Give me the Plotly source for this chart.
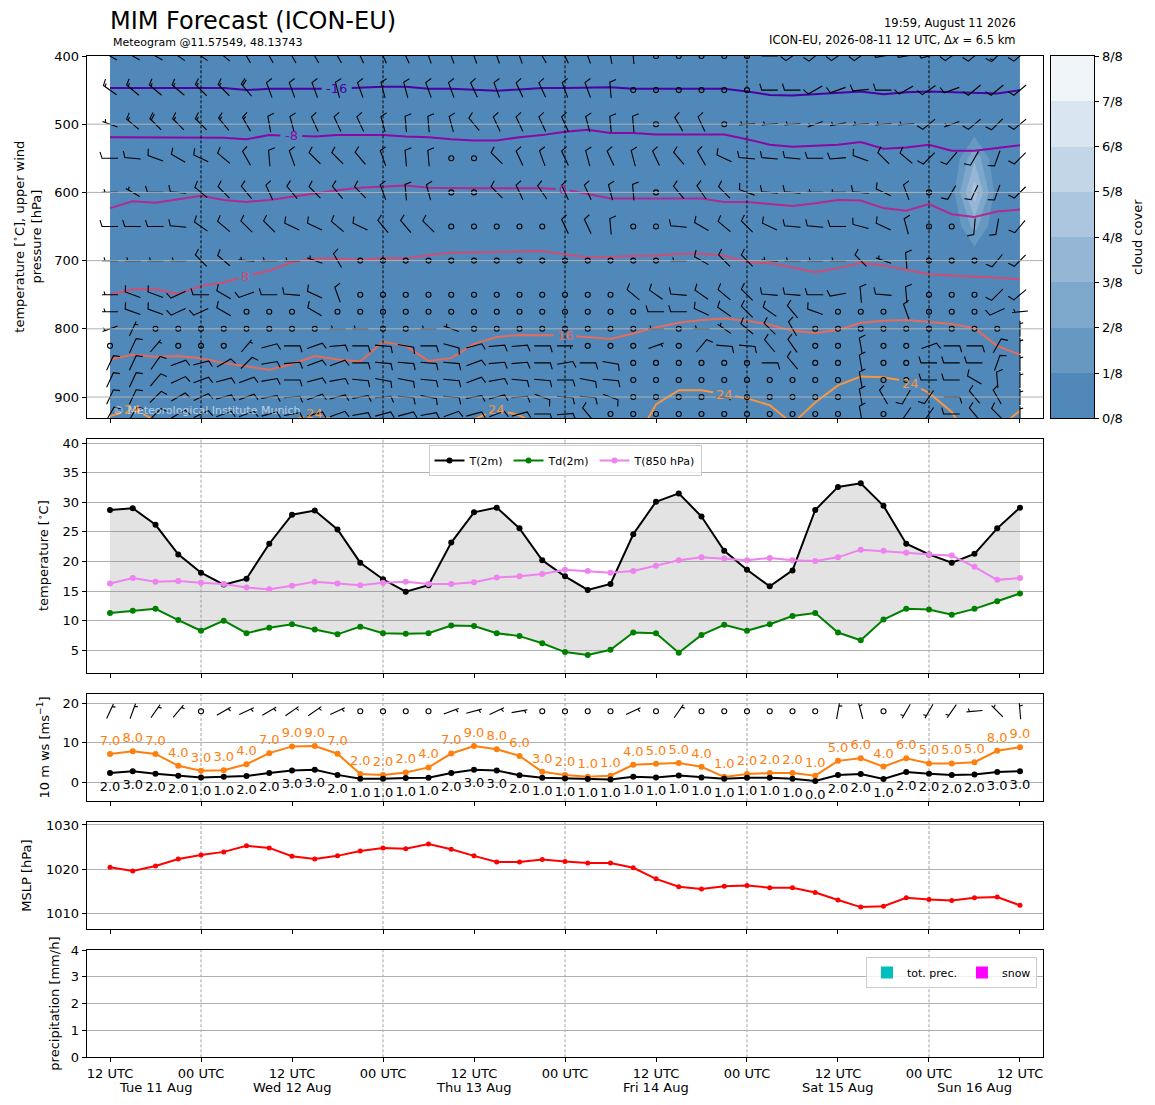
import math
import numpy as np
import plotly.graph_objects as go

# ---------------- data ----------------
lead_hours = list(range(0, 121, 3))   # hours after 2026-08-11 12 UTC
tick_hours = [0, 12, 24, 36, 48, 60, 72, 84, 96, 108, 120]
tick_text = ["12 UTC", "00 UTC", "12 UTC", "00 UTC", "12 UTC", "00 UTC",
             "12 UTC", "00 UTC", "12 UTC", "00 UTC", "12 UTC"]
midnight_hours = [12, 36, 60, 84, 108]
day_centers = [6, 24, 48, 72, 96, 114]
day_labels = ["Tue 11 Aug", "Wed 12 Aug", "Thu 13 Aug", "Fri 14 Aug", "Sat 15 Aug", "Sun 16 Aug"]

t2m = [28.7, 29.0, 26.2, 21.2, 18.1, 16.1, 17.1, 23.0, 27.9, 28.6, 25.4, 19.8, 17.0, 14.9,
       16.0, 23.2, 28.3, 29.1, 25.6, 20.2, 17.5, 15.2, 16.2, 24.6, 30.1, 31.5, 27.6, 21.8,
       18.6, 15.8, 18.5, 28.7, 32.6, 33.2, 29.4, 23.0, 21.2, 19.8, 21.3, 25.6, 29.1]
td2m = [11.3, 11.7, 12.0, 10.1, 8.3, 10.0, 7.9, 8.8, 9.4, 8.5, 7.7, 9.0, 7.9, 7.8,
        7.9, 9.2, 9.1, 7.9, 7.4, 6.2, 4.7, 4.2, 5.1, 8.0, 7.9, 4.6, 7.6, 9.3,
        8.3, 9.4, 10.8, 11.3, 8.0, 6.7, 10.2, 12.0, 11.9, 11.0, 12.0, 13.3, 14.6]
t850 = [16.3, 17.2, 16.6, 16.7, 16.4, 16.2, 15.6, 15.3, 15.9, 16.6, 16.3, 16.0, 16.4, 16.6,
        16.2, 16.2, 16.5, 17.3, 17.5, 17.9, 18.6, 18.4, 18.1, 18.4, 19.3, 20.2, 20.7, 20.5,
        20.2, 20.6, 20.2, 20.1, 20.7, 22.0, 21.8, 21.5, 21.2, 21.0, 19.1, 16.9, 17.2]

ws10 = [2.4, 2.8, 2.2, 1.7, 1.25, 1.4, 1.6, 2.4, 3.0, 3.2, 1.9, 0.9, 0.9, 1.1,
        1.2, 2.4, 3.2, 3.0, 1.8, 1.2, 1.0, 0.85, 0.75, 1.45, 1.25, 1.75, 1.25, 0.9,
        1.2, 1.2, 0.9, 0.35, 1.85, 2.1, 0.85, 2.6, 2.2, 1.85, 2.0, 2.6, 2.85]
ws10_labels = [2.0, 3.0, 2.0, 2.0, 1.0, 1.0, 2.0, 2.0, 3.0, 3.0, 2.0, 1.0, 1.0, 1.0,
               1.0, 2.0, 3.0, 3.0, 2.0, 1.0, 1.0, 1.0, 1.0, 1.0, 1.0, 1.0, 1.0, 1.0,
               1.0, 1.0, 1.0, 0.0, 2.0, 2.0, 1.0, 2.0, 2.0, 2.0, 2.0, 3.0, 3.0]
gust10 = [7.2, 7.85, 7.2, 4.2, 2.95, 3.1, 4.6, 7.4, 9.1, 9.2, 7.25, 2.1, 1.9, 2.5,
          3.8, 7.3, 9.2, 8.4, 6.7, 2.7, 1.9, 1.4, 1.7, 4.45, 4.7, 4.9, 3.95, 1.4,
          2.1, 2.35, 2.35, 1.7, 5.45, 6.1, 4.0, 6.1, 4.8, 4.8, 5.1, 8.0, 8.9]
gust10_labels = [7.0, 8.0, 7.0, 4.0, 3.0, 3.0, 4.0, 7.0, 9.0, 9.0, 7.0, 2.0, 2.0, 2.0,
                 4.0, 7.0, 9.0, 8.0, 6.0, 3.0, 2.0, 1.0, 1.0, 4.0, 5.0, 5.0, 4.0, 1.0,
                 2.0, 2.0, 2.0, 1.0, 5.0, 6.0, 4.0, 6.0, 5.0, 5.0, 5.0, 8.0, 9.0]
wdir10 = [25, 20, 35, 40, 0, 60, 65, 60, 55, 55, 65, 0, 0, 0,
          0, 70, 75, 65, 80, 0, 0, 0, 0, 65, 0, 35, 0, 0,
          0, 0, 0, 0, 10, 345, 0, 210, 210, 215, 265, 315, 355]

mslp = [1020.4, 1019.6, 1020.7, 1022.3, 1023.2, 1023.9, 1025.3, 1024.8, 1022.9, 1022.3,
        1023.0, 1024.1, 1024.8, 1024.6, 1025.7, 1024.5, 1023.0, 1021.6, 1021.6, 1022.2,
        1021.7, 1021.4, 1021.4, 1020.3, 1017.8, 1016.0, 1015.5, 1016.1, 1016.3, 1015.8,
        1015.8, 1014.7, 1013.0, 1011.4, 1011.6, 1013.5, 1013.1, 1012.9, 1013.5, 1013.7, 1011.8]

tot_prec = [0.0] * 41
snow_prec = [0.0] * 41

# upper-air winds: direction (deg, from) and speed (kt) per pressure level
levels = [400, 450, 500, 550, 600, 650, 700, 750, 775, 800, 825, 850, 875, 900, 925]
dir_400 = [300, 300, 300, 305, 305, 310, 330, 330, 330, 330, 330, 335, 335, 335, 340, 340, 340, 340, 340, 330, 335,
           340, 350, 355, 0, 0, 0, 0, 0, 270, 235, 230, 235, 235, 260, 260, 255, 235, 230, 225, 230]
kt_400 = [15, 15, 15, 15, 15, 15, 15, 15, 15, 15, 15, 15, 15, 15, 10, 10, 10, 10, 10, 10, 10,
          10, 10, 10, 0, 0, 0, 0, 0, 5, 10, 10, 10, 10, 10, 10, 10, 10, 10, 15, 10]
dir_450 = [305, 310, 310, 310, 315, 315, 320, 340, 340, 340, 345, 340, 345, 345, 340, 340, 335, 340, 335, 335, 340,
           340, 355, 0, 0, 0, 0, 0, 0, 270, 270, 240, 250, 265, 270, 240, 235, 250, 230, 230, 230]
kt_450 = [15, 15, 15, 15, 15, 15, 20, 10, 10, 10, 10, 10, 10, 10, 10, 10, 10, 10, 10, 10, 10,
          10, 10, 0, 0, 0, 0, 0, 0, 10, 10, 10, 10, 10, 10, 10, 10, 10, 10, 10, 10]
dir_500 = [290, 310, 315, 315, 315, 320, 330, 350, 345, 335, 335, 335, 345, 355, 355, 345, 320, 335, 335, 335, 335,
           345, 355, 355, 0, 330, 335, 0, 265, 265, 265, 250, 260, 265, 265, 265, 230, 250, 230, 225, 230]
kt_500 = [5, 15, 20, 15, 15, 15, 15, 10, 10, 10, 10, 10, 10, 10, 10, 10, 10, 10, 10, 10, 10,
          10, 10, 10, 0, 10, 10, 0, 5, 5, 5, 5, 5, 5, 5, 5, 10, 5, 10, 10, 10]
dir_550 = [270, 275, 290, 300, 295, 310, 330, 355, 340, 315, 315, 320, 340, 355, 355, 0, 0, 315, 335, 340, 335,
           345, 335, 345, 335, 320, 330, 295, 275, 275, 275, 270, 265, 290, 315, 310, 225, 220, 210, 200, 225]
kt_550 = [10, 10, 10, 10, 10, 10, 10, 10, 10, 10, 10, 10, 10, 10, 10, 0, 0, 10, 10, 10, 10,
          10, 10, 10, 10, 10, 10, 10, 10, 10, 10, 10, 10, 10, 10, 10, 10, 10, 10, 10, 10]
dir_600 = [270, 300, 270, 275, 310, 315, 320, 335, 320, 315, 320, 315, 340, 355, 345, 0, 0, 315, 335, 325, 335,
           335, 345, 355, 0, 320, 325, 315, 290, 275, 275, 270, 270, 275, 295, 340, 0, 210, 205, 200, 225]
kt_600 = [5, 5, 10, 10, 10, 10, 10, 10, 10, 10, 10, 10, 10, 10, 10, 0, 0, 10, 10, 10, 10,
          10, 10, 10, 0, 10, 10, 10, 10, 10, 10, 5, 5, 10, 10, 10, 0, 10, 10, 10, 10]
dir_650 = [270, 270, 270, 275, 305, 310, 315, 315, 295, 295, 310, 295, 320, 320, 315, 0, 0, 0, 0, 0, 335,
           335, 355, 0, 0, 275, 300, 310, 315, 295, 275, 275, 270, 285, 295, 345, 0, 0, 185, 190, 220]
kt_650 = [10, 10, 10, 10, 10, 10, 10, 10, 10, 10, 10, 10, 10, 10, 10, 0, 0, 0, 0, 0, 10,
          10, 10, 0, 0, 10, 10, 10, 10, 10, 10, 10, 10, 10, 10, 10, 0, 0, 10, 10, 10]
dir_700 = [270, 270, 270, 270, 315, 310, 275, 270, 270, 290, 330, 0, 0, 0, 0, 0, 0, 0, 0, 0, 0,
           0, 0, 0, 0, 270, 300, 315, 315, 275, 270, 270, 270, 315, 290, 355, 0, 0, 0, 220, 225]
kt_700 = [5, 5, 5, 5, 10, 10, 5, 5, 5, 5, 10, 0, 0, 0, 0, 0, 0, 0, 0, 0, 0,
          0, 0, 0, 0, 5, 10, 10, 10, 5, 5, 5, 5, 10, 5, 10, 0, 0, 0, 10, 10]
dir_750 = [270, 290, 290, 245, 270, 300, 250, 270, 275, 295, 340, 0, 0, 0, 0, 0, 0, 0, 0, 0, 0,
           0, 0, 310, 305, 275, 305, 310, 315, 275, 275, 270, 260, 355, 275, 355, 0, 0, 0, 225, 230]
kt_750 = [5, 10, 10, 10, 10, 10, 10, 10, 10, 10, 10, 0, 0, 0, 0, 0, 0, 0, 0, 0, 0,
          0, 0, 10, 10, 10, 10, 10, 10, 10, 10, 10, 10, 10, 10, 10, 0, 0, 0, 10, 10]
dir_775 = [270, 290, 290, 245, 245, 300, 0, 0, 0, 300, 0, 0, 0, 0, 0, 0, 0, 0, 0, 0, 0,
           0, 0, 0, 270, 270, 295, 305, 315, 305, 320, 290, 0, 0, 0, 340, 0, 0, 0, 245, 265]
kt_775 = [5, 10, 10, 10, 10, 10, 0, 0, 0, 10, 0, 0, 0, 0, 0, 0, 0, 0, 0, 0, 0,
          0, 0, 0, 10, 10, 10, 10, 10, 10, 10, 10, 0, 0, 0, 10, 0, 0, 0, 10, 5]
dir_800 = [250, 25, 0, 0, 0, 0, 0, 0, 0, 0, 270, 270, 0, 0, 270, 290, 0, 0, 0, 0, 0,
           0, 0, 0, 270, 0, 270, 305, 310, 315, 330, 0, 0, 0, 0, 0, 0, 0, 0, 0, 0]
kt_800 = [5, 5, 0, 0, 0, 0, 0, 0, 0, 0, 5, 5, 0, 0, 5, 5, 0, 0, 0, 0, 0,
          0, 0, 0, 5, 0, 5, 5, 10, 10, 10, 0, 0, 0, 0, 0, 0, 0, 0, 0, 5]
dir_825 = [0, 25, 40, 0, 0, 0, 40, 75, 90, 70, 85, 90, 95, 100, 90, 105, 75, 85, 85, 90, 90,
           0, 0, 0, 70, 0, 40, 95, 95, 320, 325, 0, 0, 350, 0, 0, 70, 90, 90, 30, 0]
kt_825 = [0, 10, 5, 0, 0, 0, 5, 10, 10, 10, 10, 10, 10, 10, 10, 10, 10, 10, 10, 10, 5,
          0, 0, 0, 5, 0, 10, 10, 10, 10, 10, 0, 0, 10, 0, 0, 10, 10, 10, 10, 5]
dir_850 = [25, 25, 35, 70, 75, 60, 45, 80, 85, 70, 70, 90, 95, 95, 95, 95, 70, 85, 85, 90, 80,
           90, 100, 0, 0, 0, 0, 0, 0, 90, 320, 0, 0, 350, 0, 0, 270, 270, 270, 20, 0]
kt_850 = [10, 10, 10, 10, 10, 10, 10, 10, 10, 10, 10, 10, 10, 10, 10, 10, 10, 10, 10, 10, 10,
          10, 10, 0, 0, 0, 0, 0, 0, 10, 10, 0, 0, 10, 0, 0, 10, 10, 10, 10, 5]
dir_875 = [25, 25, 40, 65, 70, 75, 70, 80, 90, 75, 80, 95, 100, 100, 95, 95, 70, 80, 95, 95, 90,
           100, 95, 0, 0, 0, 0, 0, 0, 0, 0, 0, 0, 350, 0, 0, 270, 270, 300, 355, 0]
kt_875 = [10, 10, 10, 10, 10, 10, 10, 10, 10, 10, 10, 10, 10, 10, 10, 10, 10, 10, 10, 10, 10,
          10, 10, 0, 0, 0, 0, 0, 0, 0, 0, 0, 0, 10, 0, 0, 10, 10, 10, 10, 5]
dir_900 = [25, 25, 45, 60, 65, 75, 70, 80, 85, 70, 75, 80, 85, 95, 100, 95, 80, 75, 85, 110, 95,
           95, 110, 0, 0, 0, 0, 90, 0, 0, 0, 0, 0, 350, 330, 210, 215, 90, 320, 330, 0]
kt_900 = [10, 10, 10, 10, 10, 10, 10, 10, 10, 10, 10, 10, 10, 10, 10, 10, 10, 10, 10, 10, 10,
          10, 10, 0, 0, 0, 0, 5, 0, 0, 0, 0, 0, 10, 10, 10, 10, 10, 10, 10, 5]
dir_925 = [30, 30, 45, 60, 65, 70, 70, 75, 80, 75, 70, 80, 75, 75, 80, 70, 75, 70, 75, 90, 85,
           320, 0, 0, 0, 0, 0, 0, 0, 0, 0, 0, 0, 350, 0, 215, 215, 270, 320, 315, 0]
kt_925 = [10, 10, 10, 10, 10, 10, 10, 10, 10, 10, 10, 10, 10, 10, 10, 10, 10, 10, 10, 10, 10,
          10, 0, 0, 0, 0, 0, 0, 0, 0, 0, 0, 0, 10, 0, 10, 10, 10, 10, 10, 5]
upper_dirs = [dir_400, dir_450, dir_500, dir_550, dir_600, dir_650, dir_700, dir_750,
              dir_775, dir_800, dir_825, dir_850, dir_875, dir_900, dir_925]
upper_kts = [kt_400, kt_450, kt_500, kt_550, kt_600, kt_650, kt_700, kt_750,
             kt_775, kt_800, kt_825, kt_850, kt_875, kt_900, kt_925]

# isotherm heights (hPa) of the labelled temperature contours
iso_m16 = [447, 447, 447, 447, 447, 447, 450, 448, 448, 448, 448, 446, 445, 445, 448, 448, 450, 451, 449, 447, 447,
           447, 446, 448, 448, 448, 448, 448, 452, 457, 458, 456, 455, 452, 456, 453, 452, 453, 453, 455, 450]
iso_m8 = [519, 519, 519, 520, 520, 520, 522, 516, 517, 518, 516, 516, 516, 518, 519, 522, 524, 524, 519, 516, 511,
          508, 513, 513, 515, 515, 515, 515, 522, 530, 533, 531, 530, 526, 536, 534, 530, 539, 539, 535, 531]
iso_0 = [623, 613, 615, 610, 605, 611, 614, 611, 606, 601, 597, 593, 591, 590, 593, 594, 594, 594, 594, 594, 596,
         602, 609, 609, 609, 609, 609, 614, 614, 617, 620, 616, 611, 612, 623, 627, 617, 632, 636, 628, 625]
iso_8 = [750, 742, 742, 749, 737, 732, 722, 715, 702, 697, 697, 699, 696, 697, 692, 688, 688, 687, 686, 686, 691,
         695, 695, 693, 693, 690, 690, 693, 702, 704, 710, 717, 711, 703, 707, 714, 720, 722, 724, 725, 727]
iso_16 = [845, 838, 841, 840, 843, 850, 855, 860, 852, 840, 845, 848, 819, 825, 847, 843, 822, 812, 809, 809, 810,
          812, 815, 807, 798, 791, 787, 785, 788, 794, 803, 806, 802, 791, 788, 787, 790, 793, 799, 825, 838]
iso_24 = [928, 918, 934, 945, 950, 950, 950, 945, 935, 924, 936, 950, 950, 950, 950, 945, 933, 918, 927, 945, 950,
          950, 955, 970, 911, 890, 890, 896, 902, 912, 939, 908, 883, 870, 871, 877, 894, 922, 975, 947, 920]
isotherms = [(-16, iso_m16, "#4a02a0", [29.9]),
             (-8, iso_m8, "#8a09a5", [23.9]),
             (0, iso_0, "#b12a90", [59.7]),
             (8, iso_8, "#d04d73", [17.8]),
             (16, iso_16, "#e56b5d", [60.0]),
             (24, iso_24, "#f89540", [2.9, 27.0, 51.0, 81.0, 105.5])]

# cloud cover (octas), only non-zero grid cells
cloud_levels = [400, 450, 500, 550, 600, 650, 700, 750, 775, 800, 825, 850, 875, 900, 925, 950]
cloud_idx = [38, 38, 38, 37, 39]
cloud_p = [550, 600, 650, 600, 600]
cloud_octas = [2.8, 4.6, 2.4, 0.5, 0.4]
cloud_colors = ["rgb(80,136,185)", "rgb(103,152,194)", "rgb(126,167,204)", "rgb(149,183,213)",
                "rgb(171,198,222)", "rgb(194,214,231)", "rgb(217,229,241)", "rgb(240,245,250)"]
cloud_ticks = ["0/8", "1/8", "2/8", "3/8", "4/8", "5/8", "6/8", "7/8", "8/8"]

# ---------------- geometry (pixels of the reference picture) ----------------
PAGE_OFF = 8                      # default body margin of the html page
FIG_W, FIG_H = 1155 - PAGE_OFF, 1105 - PAGE_OFF
X_L, X_R = 86.7, 1043.3
X_RANGE = [-3.075, 123.075]
SX = (X_R - X_L) / (X_RANGE[1] - X_RANGE[0])
panels = [  # top px, bottom px, y range
    (56.0, 418.3, [931.2, 400.0]),
    (439.3, 672.7, [1.22, 40.64]),
    (694.0, 801.0, [-4.7, 22.35]),
    (822.3, 929.0, [1006.44, 1030.6]),
    (950.0, 1057.3, [0, 4]),
]


def fx(px):
    return (px - PAGE_OFF) / FIG_W


def fy(py):
    return 1 - (py - PAGE_OFF) / FIG_H


def px_per_unit(i):
    top, bot, yr = panels[i]
    return (bot - top) / (yr[1] - yr[0])   # negative for reversed axis


def barbs(xc, yc, wdir, wkt, sy, length=16.0):
    """matplotlib style wind barbs (pivot middle) as line segments in data units"""
    h, w, sp = 0.4 * length, 0.25 * length, 0.125 * length
    xs, ys, cx, cy = [], [], [], []
    for x0, y0, d, s in zip(xc, yc, wdir, wkt):
        mag = 5 * int(s / 5 + 0.5)
        nflag = mag // 50
        mag -= 50 * nflag
        nbarb = mag // 10
        half = (mag - 10 * nbarb) >= 5
        if nflag == 0 and nbarb == 0 and not half:
            cx.append(x0)
            cy.append(y0)
            continue
        u = -s * math.sin(math.radians(d))
        v = -s * math.cos(math.radians(d))
        rot = math.atan2(v, u) + math.pi / 2
        endy = -length / 2
        pts = [(0, endy)]
        off = length
        for _ in range(nflag):
            pts += [(0, endy + off), (h, endy + off - w / 2), (0, endy + off - w)]
            off -= w + sp
        for _ in range(nbarb):
            pts += [(0, endy + off), (h, endy + off + w / 2), (0, endy + off)]
            off -= sp
        if half:
            if off == length:
                pts.append((0, endy + off))
                off -= 1.5 * sp
            pts += [(0, endy + off), (h / 2, endy + off + w / 4), (0, endy + off)]
        pts.append((0, endy))
        c, sn = math.cos(rot), math.sin(rot)
        for px, py in pts:
            rx = px * c - py * sn
            ry = px * sn + py * c
            xs.append(x0 + rx / SX)
            ys.append(y0 + ry / sy)
        xs.append(None)
        ys.append(None)
    return xs, ys, cx, cy


def gapped(values, label_times, half):
    t = np.array(lead_hours, float)
    p = np.array(values, float)
    allt = sorted(set(list(t) + [tl - half for tl in label_times] + [tl + half for tl in label_times]))
    xs, ys = [], []
    for tt in allt:
        if any(tl - half + 1e-9 < tt < tl + half - 1e-9 for tl in label_times):
            continue
        xs.append(tt)
        ys.append(float(np.interp(tt, t, p)))
        if any(abs(tt - (tl - half)) < 1e-9 for tl in label_times):
            xs.append(None)
            ys.append(None)
    return xs, ys


fig = go.Figure()
FONT = "DejaVu Sans"

# ---- upper panel: cloud cover, isotherms, winds ----
cloud = np.zeros((len(cloud_levels), len(lead_hours)))
for i, p, v in zip(cloud_idx, cloud_p, cloud_octas):
    cloud[cloud_levels.index(p), i] = v
fig.add_trace(go.Contour(
    x=lead_hours, y=cloud_levels, z=cloud, autocontour=False,
    contours=dict(start=1, end=7, size=1, coloring="fill", showlines=False),
    colorscale=[[k / 7, c] for k, c in enumerate(cloud_colors)],
    line=dict(width=0, smoothing=0), showscale=False, hoverinfo="skip",
    xaxis="x", yaxis="y"))

annotations = []
for lev, vals, col, ltimes in isotherms:
    txt = str(lev)
    half = (len(txt) * 8 + 6) / 2 / SX
    xs, ys = gapped(vals, ltimes, half)
    fig.add_trace(go.Scatter(x=xs, y=ys, mode="lines", line=dict(color=col, width=2),
                             showlegend=False, hoverinfo="skip", xaxis="x", yaxis="y"))
    for tl in ltimes:
        annotations.append(dict(x=tl, y=float(np.interp(tl, lead_hours, vals)), xref="x", yref="y",
                                text=txt, showarrow=False, font=dict(color=col, size=13, family=FONT)))

sy_up = px_per_unit(0)
bx, by, bcx, bcy = [], [], [], []
for lev, dirs, kts in zip(levels, upper_dirs, upper_kts):
    a, b, c, d = barbs(lead_hours, [lev] * len(lead_hours), dirs, kts, sy_up)
    bx += a
    by += b
    bcx += c
    bcy += d
fig.add_trace(go.Scatter(x=bx, y=by, mode="lines", line=dict(color="black", width=1.1),
                         showlegend=False, hoverinfo="skip", xaxis="x", yaxis="y"))
fig.add_trace(go.Scatter(x=bcx, y=bcy, mode="markers",
                         marker=dict(symbol="circle-open", size=5, color="black", line=dict(width=1.1)),
                         showlegend=False, hoverinfo="skip", xaxis="x", yaxis="y"))

# ---- colour bar for cloud cover ----
fig.add_trace(go.Heatmap(x=[0], y=[k + 0.5 for k in range(8)], z=[[k] for k in range(8)],
                         colorscale=[[k / 7, c] for k, c in enumerate(cloud_colors)],
                         zmin=0, zmax=7, showscale=False, hoverinfo="skip", xaxis="x6", yaxis="y6"))

# ---- temperature ----
fig.add_trace(go.Scatter(x=lead_hours, y=td2m, mode="lines", line=dict(width=0), showlegend=False,
                         hoverinfo="skip", xaxis="x2", yaxis="y2"))
fig.add_trace(go.Scatter(x=lead_hours, y=t2m, mode="lines", line=dict(width=0), fill="tonexty",
                         fillcolor="rgba(128,128,128,0.22)", showlegend=False, hoverinfo="skip",
                         xaxis="x2", yaxis="y2"))
for name, vals, col in [("T(2m)", t2m, "black"), ("Td(2m)", td2m, "green"), ("T(850 hPa)", t850, "violet")]:
    fig.add_trace(go.Scatter(x=lead_hours, y=vals, mode="lines+markers", name=name,
                             line=dict(color=col, width=2), marker=dict(size=6, color=col),
                             xaxis="x2", yaxis="y2", legend="legend"))

# ---- 10 m wind ----
sy_w = px_per_unit(2)
fig.add_trace(go.Scatter(x=lead_hours, y=gust10, mode="lines+markers", line=dict(color="#ff7f0e", width=2),
                         marker=dict(size=6, color="#ff7f0e"), showlegend=False, xaxis="x3", yaxis="y3"))
fig.add_trace(go.Scatter(x=lead_hours, y=ws10, mode="lines+markers", line=dict(color="black", width=2),
                         marker=dict(size=6, color="black"), showlegend=False, xaxis="x3", yaxis="y3"))
fig.add_trace(go.Scatter(x=lead_hours, y=[g + 12.3 / sy_w for g in gust10], mode="text",
                         text=["%.1f" % g for g in gust10_labels], textfont=dict(color="#ff7f0e", size=13),
                         showlegend=False, hoverinfo="skip", cliponaxis=False, xaxis="x3", yaxis="y3"))
fig.add_trace(go.Scatter(x=lead_hours, y=[w - 14.4 / sy_w for w in ws10], mode="text",
                         text=["%.1f" % w for w in ws10_labels], textfont=dict(color="black", size=13),
                         showlegend=False, hoverinfo="skip", cliponaxis=False, xaxis="x3", yaxis="y3"))
a, b, c, d = barbs(lead_hours, [18] * len(lead_hours), wdir10, [w * 1.94384 for w in ws10], sy_w)
fig.add_trace(go.Scatter(x=a, y=b, mode="lines", line=dict(color="black", width=1.1),
                         showlegend=False, hoverinfo="skip", xaxis="x3", yaxis="y3"))
fig.add_trace(go.Scatter(x=c, y=d, mode="markers",
                         marker=dict(symbol="circle-open", size=5, color="black", line=dict(width=1.1)),
                         showlegend=False, hoverinfo="skip", xaxis="x3", yaxis="y3"))

# ---- MSLP ----
fig.add_trace(go.Scatter(x=lead_hours, y=mslp, mode="lines+markers", line=dict(color="red", width=2),
                         marker=dict(size=5, color="red"), showlegend=False, xaxis="x4", yaxis="y4"))

# ---- precipitation ----
fig.add_trace(go.Bar(x=lead_hours, y=tot_prec, name="tot. prec.", marker_color="#00bfbf",
                     xaxis="x5", yaxis="y5", legend="legend2"))
fig.add_trace(go.Bar(x=lead_hours, y=snow_prec, name="snow", marker_color="#ff00ff",
                     xaxis="x5", yaxis="y5", legend="legend2"))

# ---------------- axes ----------------
layout = {}
ytick_sets = [
    dict(tickvals=[400, 500, 600, 700, 800, 900]),
    dict(tickvals=[5, 10, 15, 20, 25, 30, 35, 40]),
    dict(tickvals=[0, 10, 20]),
    dict(tickvals=[1010, 1020, 1030]),
    dict(tickvals=[0, 1, 2, 3, 4]),
]
for i, (top, bot, yr) in enumerate(panels):
    n = "" if i == 0 else str(i + 1)
    layout["xaxis" + n] = dict(
        domain=[fx(X_L), fx(X_R)], range=X_RANGE, anchor="y" + n, tickmode="array",
        tickvals=tick_hours, ticktext=tick_text, showticklabels=(i == 4), ticks="outside",
        ticklen=4, tickcolor="black", showline=True, mirror=True, linecolor="black", linewidth=1,
        showgrid=False, zeroline=False, tickfont=dict(size=13))
    layout["yaxis" + n] = dict(
        domain=[fy(bot), fy(top)], range=yr, anchor="x" + n, tickmode="array",
        ticks="outside", ticklen=4, tickcolor="black", showline=True, mirror=True,
        linecolor="black", linewidth=1, zeroline=False, tickfont=dict(size=13),
        showgrid=(i > 0), gridcolor="#b0b0b0", gridwidth=1, **ytick_sets[i])
layout["xaxis6"] = dict(domain=[fx(1051), fx(1094.3)], range=[-0.5, 0.5], anchor="y6",
                        showticklabels=False, ticks="", showline=True, mirror=True,
                        linecolor="black", showgrid=False, zeroline=False)
layout["yaxis6"] = dict(domain=[fy(418.3), fy(56.0)], range=[0, 8], anchor="x6", side="right",
                        tickmode="array", tickvals=list(range(9)), ticktext=cloud_ticks,
                        ticks="outside", ticklen=4, tickcolor="black", showline=True, mirror=True,
                        linecolor="black", showgrid=False, zeroline=False, tickfont=dict(size=13))

# ---------------- shapes ----------------
shapes = []
for p in [500, 600, 700, 800, 900]:
    shapes.append(dict(type="line", xref="x domain", yref="y", x0=0, x1=1, y0=p, y1=p,
                       line=dict(color="#b0b0b0", width=1), layer="above"))
for hh in midnight_hours:
    shapes.append(dict(type="line", xref="x", yref="y domain", x0=hh, x1=hh, y0=0, y1=1,
                       line=dict(color="black", width=1, dash="3px,2px"), layer="above"))
    for n in ["2", "3", "4", "5"]:
        shapes.append(dict(type="line", xref="x" + n, yref="y" + n + " domain", x0=hh, x1=hh, y0=0, y1=1,
                           line=dict(color="#8c8c8c", width=0.8, dash="3px,2px"), layer="below"))


# ---------------- texts ----------------
def ytitle(text, xpx, i):
    top, bot, _ = panels[i]
    return dict(x=fx(xpx), y=fy((top + bot) / 2), xref="paper", yref="paper", text=text,
                textangle=-90, showarrow=False, xanchor="center", yanchor="middle",
                font=dict(size=13, family=FONT))


annotations += [
    ytitle("temperature [<sup>∘</sup>C], upper wind<br>pressure [hPa]", 26.5, 0),
    ytitle("temperature [<sup>∘</sup>C]", 43, 1),
    ytitle("10 m ws [ms<sup>−1</sup>]", 43, 2),
    ytitle("MSLP [hPa]", 27, 3),
    ytitle("precipitation [mm/h]", 55, 4),
    dict(x=fx(1137), y=fy(237), xref="paper", yref="paper", text="cloud cover", textangle=-90,
         showarrow=False, xanchor="center", yanchor="middle", font=dict(size=13, family=FONT)),
    dict(x=fx(108), y=fy(21), xref="paper", yref="paper", text="MIM Forecast (ICON-EU)",
         showarrow=False, xanchor="left", yanchor="middle", font=dict(size=24, family=FONT)),
    dict(x=fx(111), y=fy(43), xref="paper", yref="paper", text="Meteogram @11.57549, 48.13743",
         showarrow=False, xanchor="left", yanchor="middle", font=dict(size=11, family=FONT)),
    dict(x=fx(1018), y=fy(23), xref="paper", yref="paper", text="19:59, August 11 2026",
         showarrow=False, xanchor="right", yanchor="middle", font=dict(size=11.5, family=FONT)),
    dict(x=fx(1018), y=fy(40), xref="paper", yref="paper",
         text="ICON-EU, 2026-08-11 12 UTC, Δ<i>x</i> = 6.5 km",
         showarrow=False, xanchor="right", yanchor="middle", font=dict(size=11.5, family=FONT)),
    dict(x=fx(111), y=fy(410), xref="paper", yref="paper", text="© Meteorological Institute Munich",
         showarrow=False, xanchor="left", yanchor="middle",
         font=dict(size=11, family=FONT, color="rgba(255,255,255,0.6)")),
]
for hc, lab in zip(day_centers, day_labels):
    annotations.append(dict(x=hc, y=fy(1087), xref="x5", yref="paper", text=lab, showarrow=False,
                            xanchor="center", yanchor="middle", font=dict(size=13, family=FONT)))

fig.update_layout(
    width=FIG_W, height=FIG_H, margin=dict(l=0, r=0, t=0, b=0),
    template="none", paper_bgcolor="white", plot_bgcolor="white",
    font=dict(family=FONT, size=13, color="black"),
    shapes=shapes, annotations=annotations, barmode="overlay",
    legend=dict(orientation="h", traceorder="normal", x=fx(565), xanchor="center", y=fy(445),
                yanchor="top", bordercolor="#cccccc", borderwidth=1, bgcolor="rgba(255,255,255,0.8)",
                font=dict(size=11)),
    legend2=dict(orientation="h", traceorder="normal", x=fx(1037), xanchor="right", y=fy(957),
                 yanchor="top", bordercolor="#cccccc", borderwidth=1, bgcolor="rgba(255,255,255,0.8)",
                 font=dict(size=11)),
    **layout)

fig.write_html("out.html")
